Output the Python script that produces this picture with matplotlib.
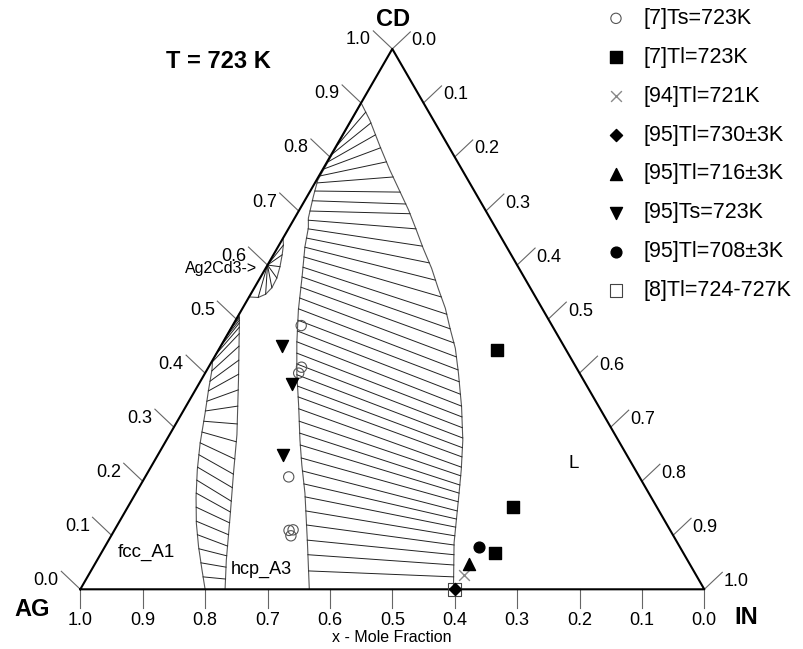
import numpy as np
import matplotlib
matplotlib.use('Agg')
import matplotlib.pyplot as plt

plt.rcParams['font.family'] = ['Liberation Sans', 'DejaVu Sans']

# ---- phase boundaries, mole fractions x(IN), x(CD) ----
# hcp_A3 + L : hcp side
hcpL_hcp_cd = [0.900, 0.757, 0.727, 0.687, 0.669, 0.634, 0.579, 0.517, 0.456, 0.400,
               0.338, 0.276, 0.230, 0.178, 0.086, 0.0]
hcpL_hcp_in = [0.000, 0.002, 0.010, 0.022, 0.031, 0.043, 0.066, 0.091, 0.119, 0.147,
               0.181, 0.214, 0.240, 0.271, 0.321, 0.367]
# hcp_A3 + L : liquid side
hcpL_liq_cd = [0.900, 0.868, 0.819, 0.776, 0.702, 0.665, 0.631, 0.594, 0.557, 0.520,
               0.483, 0.446, 0.400, 0.338, 0.276, 0.221, 0.178, 0.086, 0.0]
hcpL_liq_in = [0.000, 0.030, 0.071, 0.108, 0.175, 0.206, 0.234, 0.266, 0.295, 0.325,
               0.351, 0.378, 0.406, 0.442, 0.475, 0.500, 0.518, 0.556, 0.598]
# tie lines, x(CD) at the hcp end and at the liquid end
tie_hcp_cd = [0.822, 0.806, 0.791, 0.778, 0.765, 0.752, 0.737, 0.719, 0.700, 0.683,
              0.667, 0.650, 0.633, 0.615, 0.596, 0.578, 0.559, 0.539, 0.519, 0.498,
              0.478, 0.458, 0.437, 0.417, 0.397, 0.376, 0.356, 0.334, 0.311, 0.289,
              0.267, 0.243, 0.219, 0.195, 0.171, 0.145, 0.119, 0.091, 0.064, 0.034]
tie_liq_cd = [0.883, 0.863, 0.841, 0.817, 0.791, 0.763, 0.735, 0.713, 0.695, 0.667,
              0.635, 0.604, 0.572, 0.541, 0.509, 0.482, 0.456, 0.430, 0.406, 0.384,
              0.361, 0.339, 0.319, 0.299, 0.280, 0.262, 0.245, 0.226, 0.210, 0.193,
              0.178, 0.162, 0.145, 0.130, 0.115, 0.099, 0.082, 0.064, 0.045, 0.023]

# fcc_A1 + hcp_A3
fcc_bnd_cd = [0.509, 0.424, 0.406, 0.369, 0.326, 0.270, 0.221, 0.171, 0.122, 0.079, 0.036, 0.0]
fcc_bnd_in = [0.000, 0.000, 0.008, 0.021, 0.037, 0.057, 0.077, 0.100, 0.125, 0.150, 0.177, 0.200]
hcp_bnd_cd = [0.509, 0.498, 0.387, 0.286, 0.215, 0.134, 0.054, 0.0]
hcp_bnd_in = [0.000, 0.006, 0.060, 0.108, 0.138, 0.173, 0.207, 0.232]
tie_fcc_cd = [0.495, 0.480, 0.465, 0.450, 0.435, 0.421, 0.404, 0.385, 0.367, 0.348,
              0.330, 0.311, 0.291, 0.271, 0.249, 0.226, 0.202, 0.178, 0.152, 0.126,
              0.101, 0.075, 0.049, 0.023]
tie_fcc_hcp_cd = [0.504, 0.502, 0.498, 0.493, 0.485, 0.473, 0.450, 0.424, 0.398, 0.369,
                  0.339, 0.306, 0.273, 0.241, 0.213, 0.188, 0.163, 0.143, 0.123, 0.101,
                  0.080, 0.062, 0.041, 0.019]

# Ag2Cd3 lobe
ag2cd3_cd = [0.650, 0.637, 0.619, 0.597, 0.576, 0.558, 0.546, 0.540, 0.541]
ag2cd3_in = [0.000, 0.007, 0.014, 0.0215, 0.027, 0.028, 0.024, 0.015, 0.000]
ag2cd3_x_cd = 0.6

# ---- experimental points ----
ts7_in = [0.110, 0.149, 0.150, 0.230, 0.280, 0.286, 0.288]
ts7_cd = [0.488, 0.411, 0.400, 0.208, 0.109, 0.110, 0.099]
tl7_in = [0.447, 0.617, 0.631]
tl7_cd = [0.443, 0.152, 0.068]
tl94_in = [0.601]
tl94_cd = [0.027]
tl95a_in = [0.600]
tl95a_cd = [0.0]
tl95b_in = [0.600]
tl95b_cd = [0.047]
ts95_in = [0.099, 0.150, 0.200]
ts95_cd = [0.450, 0.379, 0.249]
tl95c_in = [0.600]
tl95c_cd = [0.078]
tl8_in = [0.600]
tl8_cd = [0.0]

ticks = np.round(np.arange(0, 1.01, 0.1), 1)

S3 = np.sqrt(3) / 2
PX = 624.0   # pixels per unit edge


def tern(x_in, x_cd):
    x_in = np.asarray(x_in, float)
    x_cd = np.asarray(x_cd, float)
    return x_in + x_cd / 2, x_cd * S3


def px(x, y):
    # figure pixel position -> data coords (for text placement)
    return (x - 80.3) / PX, (589.3 - y) / PX


def on_bnd(cd, bcd, bin_):
    bcd = np.asarray(bcd)[::-1]
    bin_ = np.asarray(bin_)[::-1]
    return np.interp(cd, bcd, bin_)


fig = plt.figure(figsize=(8.04, 6.49), dpi=100)
ax = fig.add_axes([0, 0, 1, 1])
ax.set_xlim(-80.3 / PX, (804 - 80.3) / PX)
ax.set_ylim((589.3 - 649) / PX, 589.3 / PX)
ax.axis('off')

# triangle
tx, ty = tern([0, 1, 0, 0], [0, 0, 1, 0])
ax.plot(tx, ty, color='black', lw=1.5, zorder=3)

bnd_kw = dict(color='#555555', lw=0.8, zorder=2)
tie_kw = dict(color='#222222', lw=0.7, zorder=2)

# hcp + L
ax.plot(*tern(hcpL_hcp_in, hcpL_hcp_cd), **bnd_kw)
ax.plot(*tern(hcpL_liq_in, hcpL_liq_cd), **bnd_kw)
for c1, c2 in zip(tie_hcp_cd, tie_liq_cd):
    i1 = on_bnd(c1, hcpL_hcp_cd, hcpL_hcp_in)
    i2 = on_bnd(c2, hcpL_liq_cd, hcpL_liq_in)
    ax.plot(*tern([i1, i2], [c1, c2]), **tie_kw)

# fcc + hcp
ax.plot(*tern(fcc_bnd_in, fcc_bnd_cd), **bnd_kw)
ax.plot(*tern(hcp_bnd_in, hcp_bnd_cd), **bnd_kw)
for c1, c2 in zip(tie_fcc_cd, tie_fcc_hcp_cd):
    i1 = on_bnd(c1, fcc_bnd_cd, fcc_bnd_in)
    i2 = on_bnd(c2, hcp_bnd_cd, hcp_bnd_in)
    ax.plot(*tern([i1, i2], [c1, c2]), **tie_kw)

# Ag2Cd3
ax.plot(*tern(ag2cd3_in, ag2cd3_cd), **bnd_kw)
for i, c in zip(ag2cd3_in[1:-1], ag2cd3_cd[1:-1]):
    ax.plot(*tern([0.0, i], [ag2cd3_x_cd, c]), **tie_kw)

# ticks and tick labels
tick_kw = dict(color='#666666', lw=0.8, zorder=1)
lab_kw = dict(fontsize=13, ha='center', va='center')
for v in ticks:
    # bottom: x(AG)
    bx, by = tern(1 - v, 0)
    ax.plot([bx, bx], [by, by - 19 / PX], **tick_kw)
    ax.text(bx, by - 31 / PX, f'{v:.1f}', **lab_kw)
    # left: x(CD)
    lx, ly = tern(0, v)
    ax.plot([lx, lx - 19 / PX], [ly, ly + 18 / PX], **tick_kw)
    ax.text(lx - 34 / PX, ly + 9 / PX, f'{v:.1f}', **lab_kw)
    # right: x(IN)
    rx, ry = tern(v, 1 - v)
    ax.plot([rx, rx + 18 / PX], [ry, ry + 17 / PX], **tick_kw)
    ax.text(rx + 32 / PX, ry + 8 / PX, f'{v:.1f}', **lab_kw)

# experimental points
ax.scatter(*tern(ts7_in, ts7_cd), marker='o', s=55, facecolors='none',
           edgecolors='#555555', linewidths=0.8, zorder=5, label='[7]Ts=723K')
ax.scatter(*tern(tl7_in, tl7_cd), marker='s', s=70, color='black', zorder=5,
           label='[7]Tl=723K')
ax.scatter(*tern(tl94_in, tl94_cd), marker='x', s=60, color='#888888',
           linewidths=1.0, zorder=5, label='[94]Tl=721K')
ax.scatter(*tern(tl95a_in, tl95a_cd), marker='D', s=38, color='black', zorder=6,
           label='[95]Tl=730±3K')
ax.scatter(*tern(tl95b_in, tl95b_cd), marker='^', s=75, color='black', zorder=5,
           label='[95]Tl=716±3K')
ax.scatter(*tern(ts95_in, ts95_cd), marker='v', s=75, color='black', zorder=5,
           label='[95]Ts=723K')
ax.scatter(*tern(tl95c_in, tl95c_cd), marker='o', s=60, color='black', zorder=5,
           label='[95]Tl=708±3K')
ax.scatter(*tern(tl8_in, tl8_cd), marker='s', s=80, facecolors='none',
           edgecolors='#444444', linewidths=0.8, zorder=4, label='[8]Tl=724-727K')

ax.legend(loc='upper left', bbox_to_anchor=(605.2 / 804, 1 - 8 / 649),
          bbox_transform=fig.transFigure, frameon=False, fontsize=15.5,
          scatterpoints=1, handlelength=1.0, handletextpad=0.76,
          labelspacing=0.83, borderpad=0, borderaxespad=0)

# labels
bold = dict(fontsize=17, fontweight='bold', ha='center', va='center')
ax.text(*px(218, 62), 'T = 723 K', **bold)
ax.text(*px(393, 20), 'CD', **bold)
ax.text(*px(32, 610), 'AG', **bold)
ax.text(*px(746, 617), 'IN', **bold)
ax.text(*px(146, 552), 'fcc_A1', fontsize=13.5, ha='center', va='center')
ax.text(*px(261, 569), 'hcp_A3', fontsize=13, ha='center', va='center')
ax.text(*px(574, 464), 'L', fontsize=13.5, ha='center', va='center')
ax.text(*px(257, 268), 'Ag2Cd3->', fontsize=11.5, ha='right', va='center')
ax.text(*px(392, 637), 'x - Mole Fraction', fontsize=11.5, ha='center', va='center')

fig.savefig('out.png', dpi=100)
